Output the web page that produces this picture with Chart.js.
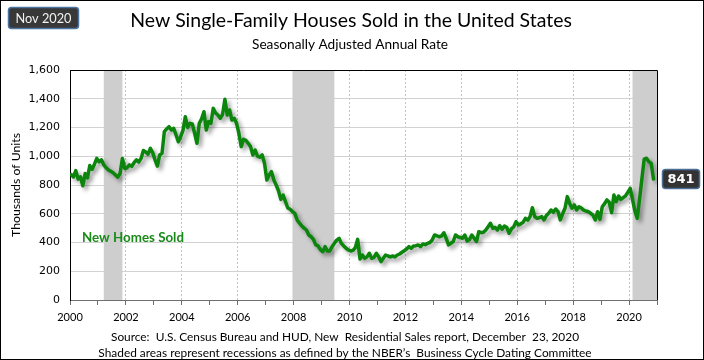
<!DOCTYPE html>
<html>
<head>
<meta charset="utf-8">
<script src="https://cdn.jsdelivr.net/npm/chart.js@4.4.1/dist/chart.umd.min.js"></script>
<style>
html,body{margin:0;padding:0;background:#fff;}
#wrap{width:704px;height:360px;position:relative;}
canvas{display:block;}
</style>
</head>
<body>
<div id="wrap"><canvas id="c" width="704" height="360"></canvas></div>
<script>
// ---- data ----
const startYear = 2000;
const sales = [
  // 2000
  873, 856, 900, 841, 857, 795, 880, 850, 935, 910, 945, 985,
  // 2001
  962, 975, 940, 920, 905, 895, 885, 870, 855, 880, 985, 915,
  // 2002
  920, 940, 930, 955, 975, 960, 985, 1040, 1030, 1015, 1055, 1025,
  // 2003
  975, 932, 1009, 1020, 1171, 1190, 1206, 1183, 1194, 1150, 1101, 1136,
  // 2004
  1180, 1275, 1200, 1229, 1225, 1160, 1090, 1229, 1260, 1310, 1183, 1241,
  // 2005
  1229, 1333, 1300, 1287, 1264, 1290, 1396, 1287, 1322, 1252, 1264, 1229,
  // 2006
  1160, 1067, 1118, 1110, 1090, 1067, 1009, 1043, 1000, 993, 1009, 951,
  // 2007
  835, 870, 893, 835, 800, 760, 700, 730, 684, 640, 631, 615,
  // 2008
  603, 557, 534, 515, 500, 487, 452, 440, 422, 383, 376, 350,
  // 2009
  336, 371, 341, 341, 371, 394, 417, 429, 394, 376, 360, 348,
  // 2010
  341, 345, 365, 422, 285, 313, 290, 300, 325, 290, 297, 325,
  // 2011
  301, 267, 290, 313, 306, 300, 306, 300, 313, 320, 332, 343,
  // 2012
  355, 371, 360, 376, 378, 383, 371, 390, 385, 394, 400, 417,
  // 2013
  452, 447, 440, 445, 468, 429, 383, 395, 406, 452, 440, 435,
  // 2014
  429, 452, 410, 420, 452, 430, 406, 475, 468, 471, 487, 510,
  // 2015
  534, 499, 505, 487, 517, 492, 515, 505, 464, 495, 510, 545,
  // 2016
  522, 530, 540, 568, 555, 580, 642, 580, 568, 572, 580, 557,
  // 2017
  587, 603, 626, 610, 633, 615, 557, 600, 638, 719, 672, 638,
  // 2018
  661, 626, 649, 640, 625, 619, 614, 603, 590, 557, 614, 561,
  // 2019
  649, 670, 696, 680, 607, 730, 684, 723, 700, 712, 725, 750,
  // 2020
  777, 700, 620, 568, 700, 840, 980, 986, 962, 950, 841
];
const yearTicks = [2000,2001,2002,2003,2004,2005,2006,2007,2008,2009,2010,2011,2012,2013,2014,2015,2016,2017,2018,2019,2020,2021];
const yTicks = [0,200,400,600,800,1000,1200,1400,1600];
const recessionStarts = ['2001-03','2007-12','2020-02'];
const recessionEnds   = ['2001-11','2009-06',null];

const titleText = 'New Single-Family Houses Sold in the United States';
const subtitleText = 'Seasonally Adjusted Annual Rate';
const sourceText = 'Source:  U.S. Census Bureau and HUD, New  Residential Sales report, December  23, 2020';
const noteText = 'Shaded areas represent recessions as defined by the NBER\u2019s  Business Cycle Dating Committee';
const yTitleText = 'Thousands of Units';
const seriesName = 'New Homes Sold';
const dateBadge = 'Nov 2020';

// ---- helpers ----
function monthToYear(s){ const [y,m] = s.split('-').map(Number); return y + (m - 1 + 0.5)/12; }
const points = sales.map((v,i)=>({x: startYear + (i + 0.5)/12, y: v}));
const lastValue = sales[sales.length-1];

function fitFont(ctx, text, weight, family, targetW){
  ctx.font = weight + ' 100px ' + family;
  const w = ctx.measureText(text).width;
  return weight + ' ' + (100*targetW/w).toFixed(2) + 'px ' + family;
}

const FAM = 'Lato, "Noto Sans", sans-serif';

const recessionPlugin = {
  id:'recessions',
  beforeDatasetsDraw(chart){
    const {ctx, chartArea:a, scales:{x}} = chart;
    ctx.save();
    ctx.fillStyle = '#cecece';
    recessionStarts.forEach((s,i)=>{
      const x0 = x.getPixelForValue(monthToYear(s));
      const x1 = recessionEnds[i] ? x.getPixelForValue(monthToYear(recessionEnds[i])) : a.right;
      ctx.fillRect(x0, a.top, Math.min(x1, a.right) - x0, a.bottom - a.top);
    });
    ctx.restore();
  }
};

const shadowPlugin = {
  id:'shadow',
  beforeDatasetDraw(chart){
    const c = chart.ctx; c.save();
    c.shadowColor = 'rgba(0,0,0,0.38)'; c.shadowBlur = 4; c.shadowOffsetX = 3; c.shadowOffsetY = 3;
  },
  afterDatasetDraw(chart){ chart.ctx.restore(); }
};

function roundBox(ctx, x, y, w, h, r, fill, stroke){
  ctx.beginPath();
  ctx.roundRect(x, y, w, h, r);
  ctx.fillStyle = fill; ctx.fill();
  ctx.lineWidth = 1.5; ctx.strokeStyle = stroke; ctx.stroke();
}

const textPlugin = {
  id:'texts',
  afterDraw(chart){
    const {ctx, chartArea:a, scales:{y}} = chart;
    ctx.save();
    // plot frame top/right
    ctx.strokeStyle = '#000'; ctx.lineWidth = 1;
    ctx.beginPath();
    ctx.moveTo(a.left, a.top + 0.5); ctx.lineTo(a.right + 0.5, a.top + 0.5); ctx.lineTo(a.right + 0.5, a.bottom);
    ctx.stroke();
    // outer frame
    ctx.strokeRect(0.5, 0.5, 703, 359);

    ctx.textAlign = 'center'; ctx.textBaseline = 'middle';
    ctx.fillStyle = '#000';
    ctx.font = fitFont(ctx, titleText, '400', FAM, 442);
    ctx.fillText(titleText, 351, 21);
    ctx.font = fitFont(ctx, subtitleText, '400', FAM, 196);
    ctx.fillText(subtitleText, 350, 45);
    ctx.font = fitFont(ctx, sourceText, '400', FAM, 468);
    ctx.fillText(sourceText, 345, 337);
    ctx.font = fitFont(ctx, noteText, '400', FAM, 494);
    ctx.fillText(noteText, 345, 353);

    // y title
    ctx.save();
    ctx.translate(16, 185); ctx.rotate(-Math.PI/2);
    ctx.font = fitFont(ctx, yTitleText, '400', FAM, 104);
    ctx.fillText(yTitleText, 0, 0);
    ctx.restore();

    // series label
    ctx.fillStyle = '#1a8a1a';
    ctx.font = fitFont(ctx, seriesName, '700', FAM, 102);
    ctx.fillText(seriesName, 133, 238);

    // date badge
    roundBox(ctx, 8.5, 7.5, 70, 21, 3, '#383838', '#4b74a0');
    ctx.fillStyle = '#f2f2f2';
    ctx.font = fitFont(ctx, dateBadge, '400', FAM, 56);
    ctx.fillText(dateBadge, 43.5, 18.5);

    // last value badge
    const py = y.getPixelForValue(lastValue);
    roundBox(ctx, 662.5, py - 9.5, 37, 19, 3, '#333333', '#4b6f96');
    ctx.fillStyle = '#ffffff';
    ctx.font = '700 13px "DejaVu Sans", sans-serif';
    ctx.fillText(String(lastValue), 681, py + 0.5);
    ctx.restore();
  }
};

new Chart(document.getElementById('c').getContext('2d'), {
  type: 'line',
  data: {
    datasets: [{
      label: seriesName,
      data: points,
      borderColor: '#0b850b',
      borderWidth: 3.5,
      pointRadius: 0,
      tension: 0,
      fill: false,
      borderJoinStyle: 'round',
      borderCapStyle: 'round'
    }]
  },
  options: {
    responsive: false,
    animation: false,
    devicePixelRatio: 1,
    layout: { padding: { left: 0, right: 47, top: 70, bottom: 0 } },
    plugins: { legend: { display: false }, tooltip: { enabled: false }, title: { display: false } },
    scales: {
      x: {
        type: 'linear', min: 2000, max: 2021,
        afterFit(s){ s.height = 60; },
        afterBuildTicks(s){ s.ticks = yearTicks.map(v => ({value: v})); },
        ticks: {
          autoSkip: false, maxRotation: 0, minRotation: 0, padding: 6,
          color: '#000', font: { family: FAM, size: 11 },
          callback: (v) => (v % 2 === 0 && v < 2021) ? String(v) : ''
        },
        grid: {
          color: (c) => (c.tick && c.tick.value % 2 === 0 && c.tick.value > 2000 && c.tick.value < 2021) ? '#c4c4c4' : 'rgba(0,0,0,0)',
          tickColor: '#6e6e6e', tickLength: 5, drawTicks: true, lineWidth: 1
        },
        border: { display: true, color: '#6e6e6e', width: 1, dash: [2, 2] }
      },
      y: {
        min: 0, max: 1600,
        afterFit(s){ s.width = 70; },
        afterBuildTicks(s){ s.ticks = yTicks.map(v => ({value: v})); },
        ticks: {
          padding: 10, color: '#000',
          font: { family: '"DejaVu Sans", sans-serif', size: 11 },
          callback: (v) => v.toLocaleString('en-US')
        },
        grid: { color: '#d2d2d2', drawTicks: false, lineWidth: 1 },
        border: { display: true, color: '#000', width: 1 }
      }
    }
  },
  plugins: [recessionPlugin, shadowPlugin, textPlugin]
});
</script>
</body>
</html>
